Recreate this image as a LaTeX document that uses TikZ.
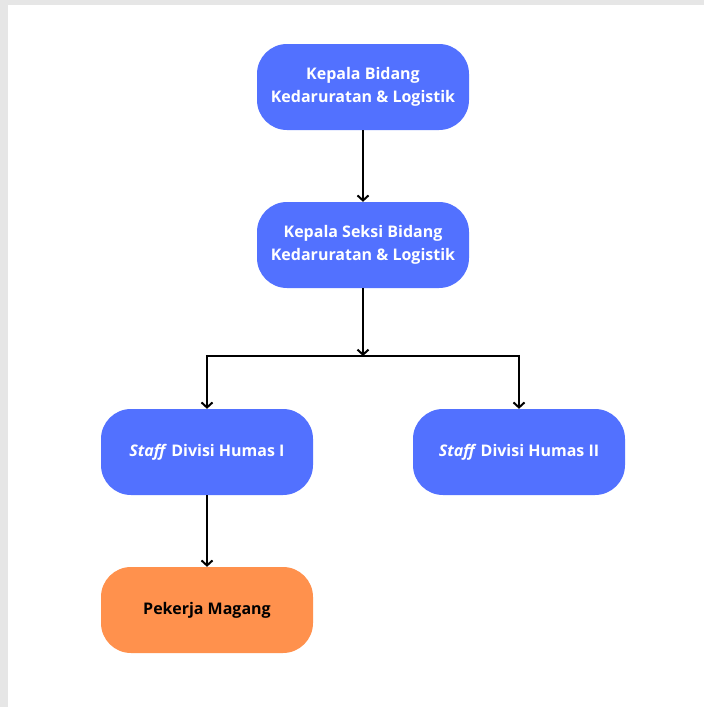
\documentclass[tikz,border=0pt]{standalone}
\usepackage{fontspec}
\setmainfont{Open Sans}
\usetikzlibrary{arrows.meta}
\definecolor{boxblue}{HTML}{5271FF}
\definecolor{boxorange}{HTML}{FF914D}
\definecolor{framegray}{HTML}{E6E6E6}
\tikzset{
  orgbox/.style={rectangle, rounded corners=30pt, minimum width=212pt, minimum height=86pt,
    inner sep=0pt, align=center, font=\fontsize{16}{23}\selectfont\bfseries, text=white, fill=boxblue},
  orangebox/.style={orgbox, fill=boxorange, text=black},
  link/.style={line width=2.2pt, draw=black, -{Straight Barb[length=5pt,width=11pt,line width=2pt]}},
  plain/.style={line width=2.2pt, draw=black}
}
\begin{document}
\begin{tikzpicture}[x=1pt,y=1pt]
\useasboundingbox (0,0) rectangle (704,-707);
\fill[framegray] (0,0) rectangle (704,-707);
\fill[white] (8,-5) rectangle (704,-707);

\node[orgbox] (kb) at (363,-87) {Kepala Bidang\\Kedaruratan \& Logistik};
\node[orgbox] (ks) at (363,-245) {Kepala Seksi Bidang\\Kedaruratan \& Logistik};
\node[orgbox] (s1) at (207,-452) {\textit{Staff} Divisi Humas I};
\node[orgbox] (s2) at (519,-452) {\textit{Staff} Divisi Humas II};
\node[orangebox] (pm) at (207,-610) {Pekerja Magang};

\coordinate (j) at (363,-356);
\coordinate (jl) at (207,-356);
\coordinate (jr) at (519,-356);

\draw[link] (kb.south) -- (ks.north);
\draw[link] (ks.south) -- (j);
\draw[plain] ([xshift=-1.1pt]jl) -- ([xshift=1.1pt]jr);
\draw[link] ([yshift=1.1pt]jl) -- (s1.north);
\draw[link] ([yshift=1.1pt]jr) -- (s2.north);
\draw[link] (s1.south) -- (pm.north);
\end{tikzpicture}
\end{document}
